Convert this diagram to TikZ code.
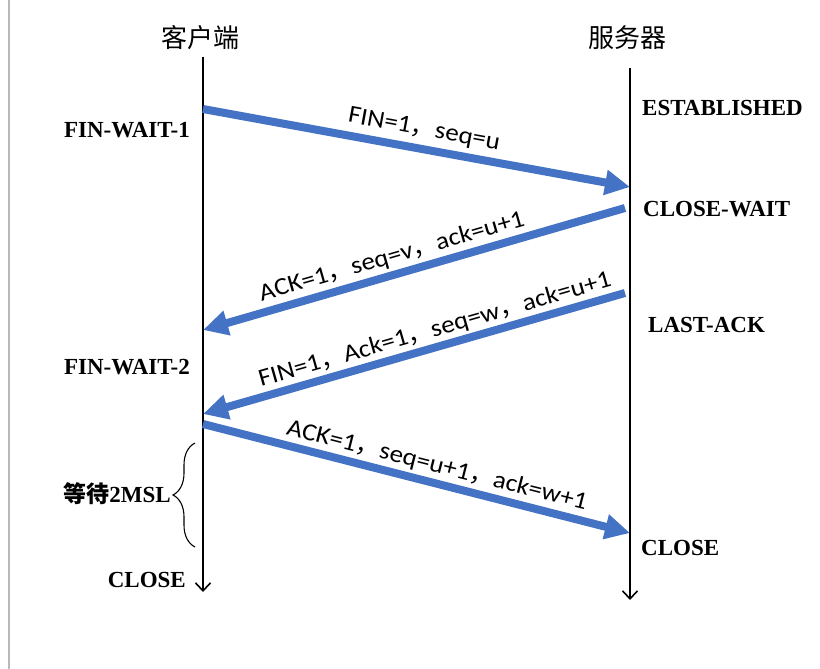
\documentclass[tikz,border=0pt]{standalone}
\usepackage{fontspec}
\setmainfont{Liberation Serif}
\newfontfamily\labfont[FakeStretch=1.1]{Carlito}
\newfontfamily\cjk{Noto Sans CJK SC}
\usetikzlibrary{arrows.meta,decorations.pathreplacing}
\definecolor{msgblue}{RGB}{68,114,196}
\newcommand\zc{{\cjk ，}}
\tikzset{
  lifeline/.style={line width=1.6pt,-{Straight Barb[length=8pt,width=15pt,line width=1.6pt]}},
  msg/.style={draw=msgblue,line width=8pt,-{Triangle[length=25pt,width=24pt]},color=msgblue,shorten >=0pt},
  msglabel/.style={font=\labfont\fontsize{24.5}{28}\selectfont,inner sep=0pt},
  state/.style={font=\bfseries\fontsize{23}{27}\selectfont,inner sep=0pt},
  header/.style={font=\cjk\fontsize{26}{30}\selectfont,inner sep=0pt},
}
\begin{document}
\begin{tikzpicture}[x=1pt,y=-1pt]
\useasboundingbox (0,0) rectangle (820,669);
\draw[gray!55,line width=1.2pt] (9,0) -- (9,669);
% headers
\node[header] (hc) at (200,38) {客户端};
\node[header] (hs) at (627,38) {服务器};
% lifelines
\coordinate (ct) at (203,57);
\coordinate (cb) at (203,592);
\coordinate (st) at (630,68);
\coordinate (sb) at (630,600);
\draw[lifeline] (ct) -- (cb);
\draw[lifeline] (st) -- (sb);
% message endpoints
\coordinate (m1s) at (203,109);
\coordinate (m1e) at (630,187);
\coordinate (m2s) at (625,208);
\coordinate (m2e) at (203,330);
\coordinate (m3s) at (625,293);
\coordinate (m3e) at (203,414);
\coordinate (m4s) at (203,424);
\coordinate (m4e) at (630,533);
\draw[msg] (m1s) -- (m1e);
\draw[msg] (m2s) -- (m2e);
\draw[msg] (m3s) -- (m3e);
\draw[msg] (m4s) -- (m4e);
% message labels
\node[msglabel,rotate=-10.5] (l1) at (424,130) {FIN=1\zc seq=u};
\node[msglabel,rotate=16] (l2) at (392,257) {ACK=1\zc seq=v\zc ack=u+1};
\node[msglabel,rotate=16] (l3) at (435,330) {FIN=1\zc Ack=1\zc seq=w\zc ack=u+1};
\node[msglabel,rotate=-14.2] (l4) at (437,466) {ACK=1\zc seq=u+1\zc ack=w+1};
% client states
\node[state,anchor=east] (fw1) at (190,130) {FIN-WAIT-1};
\node[state,anchor=east] (fw2) at (190,367) {FIN-WAIT-2};
\node[state,anchor=east] (cc) at (186,580) {CLOSE};
% server states
\node[state,anchor=west] (es) at (642,108) {ESTABLISHED};
\node[state,anchor=west] (cw) at (643,209) {CLOSE-WAIT};
\node[state,anchor=west] (la) at (648,325) {LAST-ACK};
\node[state,anchor=west] (sc) at (641,548) {CLOSE};
% 2MSL brace
\coordinate (bt) at (195,443);
\coordinate (bb) at (195,547);
\draw[line width=1.1pt,decorate,decoration={brace,amplitude=22pt}] (bb) -- (bt);
\node[state,anchor=east] (msl) at (171,494) {{\cjk\bfseries 等待}2MSL};
\end{tikzpicture}
\end{document}
